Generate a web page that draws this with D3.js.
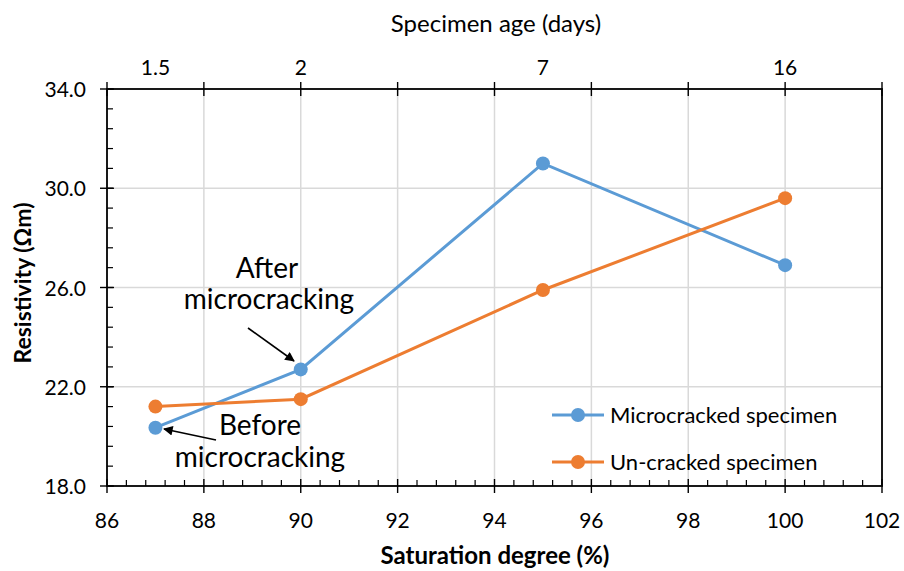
<!DOCTYPE html>
<html>
<head>
<meta charset="utf-8">
<script src="https://cdn.jsdelivr.net/npm/d3@7"></script>
<style>
  body { margin: 0; background: #fff; }
  text { font-family: Lato, "Open Sans", sans-serif; fill: #000; }
</style>
</head>
<body>
<svg id="chart" width="904" height="571"></svg>
<script>
// data
var saturation = [87, 90, 95, 100];
var ageLabels = ["1.5", "2", "7", "16"];
var microcracked = [20.35, 22.7, 31.0, 26.9];
var uncracked = [21.2, 21.5, 25.9, 29.6];
var seriesNames = ["Microcracked specimen", "Un-cracked specimen"];
var seriesColors = ["#5B9BD5", "#ED7D31"];

var svg = d3.select("#chart");
var pLeft = 107, pRight = 882, pTop = 89, pBottom = 486;

var x = d3.scaleLinear().domain([86, 102]).range([pLeft, pRight]);
var y = d3.scaleLinear().domain([18, 34]).range([pBottom, pTop]);

// gridlines
svg.append("g").selectAll("line")
  .data(d3.range(88, 102, 2))
  .enter().append("line")
  .attr("x1", function (d) { return x(d); }).attr("x2", function (d) { return x(d); })
  .attr("y1", pTop).attr("y2", pBottom)
  .attr("stroke", "#d9d9d9").attr("stroke-width", 1.5);
svg.append("g").selectAll("line")
  .data([22, 26, 30])
  .enter().append("line")
  .attr("x1", pLeft).attr("x2", pRight)
  .attr("y1", function (d) { return y(d); }).attr("y2", function (d) { return y(d); })
  .attr("stroke", "#d9d9d9").attr("stroke-width", 1.5);

// minor ticks (inside)
var minorX = d3.range(86, 102.01, 0.4).filter(function (v) { return Math.abs(v / 2 - Math.round(v / 2)) > 0.01; });
svg.append("g").selectAll("line")
  .data(minorX).enter().append("line")
  .attr("x1", function (d) { return x(d); }).attr("x2", function (d) { return x(d); })
  .attr("y1", pBottom).attr("y2", pBottom - 6)
  .attr("stroke", "#000").attr("stroke-width", 1.2);
var minorY = d3.range(18, 34.01, 0.8).filter(function (v) { return Math.abs(v / 4 - Math.round(v / 4)) > 0.01; });
svg.append("g").selectAll("line")
  .data(minorY).enter().append("line")
  .attr("x1", pLeft).attr("x2", pLeft + 6)
  .attr("y1", function (d) { return y(d); }).attr("y2", function (d) { return y(d); })
  .attr("stroke", "#000").attr("stroke-width", 1.2);

// major ticks crossing the axis
svg.append("g").selectAll("line")
  .data(d3.range(86, 102.01, 2)).enter().append("line")
  .attr("x1", function (d) { return x(d); }).attr("x2", function (d) { return x(d); })
  .attr("y1", pBottom - 7).attr("y2", pBottom + 7)
  .attr("stroke", "#000").attr("stroke-width", 1.4);
svg.append("g").selectAll("line")
  .data(d3.range(86, 102.01, 2)).enter().append("line")
  .attr("x1", function (d) { return x(d); }).attr("x2", function (d) { return x(d); })
  .attr("y1", pTop - 7).attr("y2", pTop + 7)
  .attr("stroke", "#000").attr("stroke-width", 1.4);
svg.append("g").selectAll("line")
  .data(d3.range(18, 34.01, 4)).enter().append("line")
  .attr("x1", pLeft - 7).attr("x2", pLeft + 7)
  .attr("y1", function (d) { return y(d); }).attr("y2", function (d) { return y(d); })
  .attr("stroke", "#000").attr("stroke-width", 1.4);

// frame
svg.append("rect")
  .attr("x", pLeft).attr("y", pTop)
  .attr("width", pRight - pLeft).attr("height", pBottom - pTop)
  .attr("fill", "none").attr("stroke", "#000").attr("stroke-width", 1.8);

// tick labels
svg.append("g").selectAll("text")
  .data(d3.range(86, 102.01, 2)).enter().append("text")
  .attr("x", function (d) { return x(d); }).attr("y", 528)
  .attr("text-anchor", "middle").attr("font-size", 21)
  .text(function (d) { return d; });
svg.append("g").selectAll("text")
  .data(d3.range(18, 34.01, 4)).enter().append("text")
  .attr("x", 86).attr("y", function (d) { return y(d) + 8; })
  .attr("text-anchor", "end").attr("font-size", 21)
  .text(function (d) { return d.toFixed(1); });
svg.append("g").selectAll("text")
  .data(saturation).enter().append("text")
  .attr("x", function (d) { return x(d); }).attr("y", 75)
  .attr("text-anchor", "middle").attr("font-size", 21)
  .text(function (d, i) { return ageLabels[i]; });

// axis titles
svg.append("text").attr("x", 496).attr("y", 32)
  .attr("text-anchor", "middle").attr("font-size", 24)
  .text("Specimen age (days)");
svg.append("text").attr("x", 495).attr("y", 564)
  .attr("text-anchor", "middle").attr("font-size", 24).attr("font-weight", "bold")
  .text("Saturation degree (%)");
svg.append("text")
  .attr("transform", "translate(31,283) rotate(-90)")
  .attr("text-anchor", "middle").attr("font-size", 23).attr("font-weight", "bold")
  .text("Resistivity (Ωm)");

// series
var series = [microcracked, uncracked];
var line = d3.line()
  .x(function (d, i) { return x(saturation[i]); })
  .y(function (d) { return y(d); });
series.forEach(function (vals, s) {
  svg.append("path").datum(vals)
    .attr("d", line)
    .attr("fill", "none").attr("stroke", seriesColors[s]).attr("stroke-width", 3);
  svg.append("g").selectAll("circle")
    .data(vals).enter().append("circle")
    .attr("cx", function (d, i) { return x(saturation[i]); })
    .attr("cy", function (d) { return y(d); })
    .attr("r", 7).attr("fill", seriesColors[s]);
});

// annotations
svg.append("defs").append("marker")
  .attr("id", "arrow").attr("viewBox", "0 0 10 10")
  .attr("refX", 9).attr("refY", 5)
  .attr("markerWidth", 7).attr("markerHeight", 6)
  .attr("markerUnits", "strokeWidth")
  .attr("orient", "auto")
  .append("path").attr("d", "M0,0 L10,5 L0,10 z").attr("fill", "#000");

svg.append("text").attr("x", 267).attr("y", 278)
  .attr("text-anchor", "middle").attr("font-size", 28).text("After");
svg.append("text").attr("x", 269).attr("y", 309)
  .attr("text-anchor", "middle").attr("font-size", 28).text("microcracking");
svg.append("line")
  .attr("x1", 248).attr("y1", 328).attr("x2", 294).attr("y2", 361)
  .attr("stroke", "#000").attr("stroke-width", 1.6).attr("marker-end", "url(#arrow)");

svg.append("text").attr("x", 260).attr("y", 435)
  .attr("text-anchor", "middle").attr("font-size", 28).text("Before");
svg.append("text").attr("x", 260).attr("y", 467)
  .attr("text-anchor", "middle").attr("font-size", 28).text("microcracking");
svg.append("line")
  .attr("x1", 216).attr("y1", 440).attr("x2", 164).attr("y2", 429)
  .attr("stroke", "#000").attr("stroke-width", 1.6).attr("marker-end", "url(#arrow)");

// legend
var legendY = [415, 462];
seriesNames.forEach(function (name, s) {
  var g = svg.append("g");
  g.append("line").attr("x1", 552).attr("x2", 604)
    .attr("y1", legendY[s]).attr("y2", legendY[s])
    .attr("stroke", seriesColors[s]).attr("stroke-width", 3);
  g.append("circle").attr("cx", 578).attr("cy", legendY[s]).attr("r", 7)
    .attr("fill", seriesColors[s]);
  g.append("text").attr("x", 610).attr("y", legendY[s] + 8)
    .attr("font-size", 22).text(name);
});
</script>
</body>
</html>
